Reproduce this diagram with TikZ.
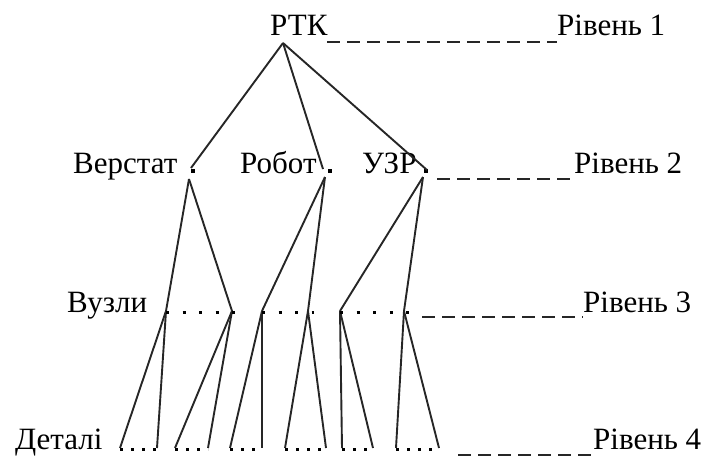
\documentclass[tikz,border=0pt]{standalone}
\usepackage{fontspec}
\setmainfont{Liberation Serif}
\begin{document}
\begin{tikzpicture}[x=1pt,y=-1pt,
  lbl/.style={font=\fontsize{31}{33}\selectfont, inner sep=0pt, anchor=base west, text=black},
  link/.style={line width=1.9pt, draw=black!85},
  lvl/.style={line width=2pt, draw=black!85, dash pattern=on 13pt off 7pt},
  dotsthree/.style={line width=3.4pt, draw=black, dash pattern=on 3.4pt off 13.1pt},
  dotsfour/.style={line width=3.4pt, draw=black, dash pattern=on 3.4pt off 7.6pt},
  pt/.style={rectangle, fill=black, inner sep=0pt, minimum size=3.8pt}]
\useasboundingbox (0,0) rectangle (707,459);

% texts
\node[lbl] (rtk) at (270,35) {РТК};
\node[lbl] (lv1) at (557,35) {Рівень 1};
\node[lbl] (verstat) at (73,173) {Верстат};
\node[lbl] (robot) at (240,173) {Робот};
\node[lbl] (uzr) at (362,173) {УЗР};
\node[lbl] (lv2) at (574,173) {Рівень 2};
\node[lbl] (vuzly) at (67,312) {Вузли};
\node[lbl] (lv3) at (583,312) {Рівень 3};
\node[lbl] (detali) at (15,449) {Деталі};
\node[lbl] (lv4) at (593,449) {Рівень 4};

% periods after level-2 names
\node[pt] (pv) at (193,171) {};
\node[pt] (pr) at (330,171) {};
\node[pt] (pu) at (426,171) {};

% connection points
\coordinate (apex) at (283,43);
\coordinate (vt) at (191,168);
\coordinate (vb) at (189,179);
\coordinate (rt) at (323,169);
\coordinate (rb) at (325,177);
\coordinate (ut) at (427,170);
\coordinate (ub) at (423,177);

\coordinate (a1) at (166,311);
\coordinate (a2) at (232,311);
\coordinate (b1) at (262,311);
\coordinate (b2) at (308,311);
\coordinate (c1) at (340,311);
\coordinate (c2) at (404,311);

\coordinate (d1) at (120,448);
\coordinate (d2) at (157,448);
\coordinate (d3) at (175,448);
\coordinate (d4) at (208,448);
\coordinate (d5) at (230,448);
\coordinate (d6) at (262,448);
\coordinate (d7) at (285,448);
\coordinate (d8) at (326,448);
\coordinate (d9) at (342,448);
\coordinate (d10) at (373,448);
\coordinate (d11) at (396,448);
\coordinate (d12) at (439,448);

% level 1 -> 2
\draw[link] (apex) -- (vt);
\draw[link] (apex) -- (rt);
\draw[link] (apex) -- (ut);
% level 2 -> 3
\draw[link] (vb) -- (a1);
\draw[link] (vb) -- (a2);
\draw[link] (rb) -- (b1);
\draw[link] (rb) -- (b2);
\draw[link] (ub) -- (c1);
\draw[link] (ub) -- (c2);
% level 3 -> 4
\draw[link] (a1) -- (d1);
\draw[link] (a1) -- (d2);
\draw[link] (a2) -- (d3);
\draw[link] (a2) -- (d4);
\draw[link] (b1) -- (d5);
\draw[link] (b1) -- (d6);
\draw[link] (b2) -- (d7);
\draw[link] (b2) -- (d8);
\draw[link] (c1) -- (d9);
\draw[link] (c1) -- (d10);
\draw[link] (c2) -- (d11);
\draw[link] (c2) -- (d12);

% dotted rows
\draw[dotsthree] ([yshift=-1.7pt]a1) -- ([yshift=-1.7pt,xshift=3pt]a2);
\draw[dotsthree] ([yshift=-1.7pt]b1) -- ([yshift=-1.7pt,xshift=6pt]b2);
\draw[dotsthree] ([yshift=-1.7pt]c1) -- ([yshift=-1.7pt,xshift=6pt]c2);
\draw[dotsfour] ([yshift=-1.7pt]d1) -- ([yshift=-1.7pt]d2);
\draw[dotsfour] ([yshift=-1.7pt]d3) -- ([yshift=-1.7pt]d4);
\draw[dotsfour] ([yshift=-1.7pt]d5) -- ([yshift=-1.7pt]d6);
\draw[dotsfour] ([yshift=-1.7pt]d7) -- ([yshift=-1.7pt]d8);
\draw[dotsfour] ([yshift=-1.7pt]d9) -- ([yshift=-1.7pt]d10);
\draw[dotsfour] ([yshift=-1.7pt]d11) -- ([yshift=-1.7pt]d12);

% level dashes
\coordinate (e1s) at (327,42);  \coordinate (e1e) at (557,42);
\coordinate (e2s) at (437,179); \coordinate (e2e) at (574,179);
\coordinate (e3s) at (422,317); \coordinate (e3e) at (583,317);
\coordinate (e4s) at (458,455); \coordinate (e4e) at (593,455);
\draw[lvl] (e1s) -- (e1e);
\draw[lvl] (e2s) -- (e2e);
\draw[lvl] (e3s) -- (e3e);
\draw[lvl] (e4s) -- (e4e);
\end{tikzpicture}
\end{document}
